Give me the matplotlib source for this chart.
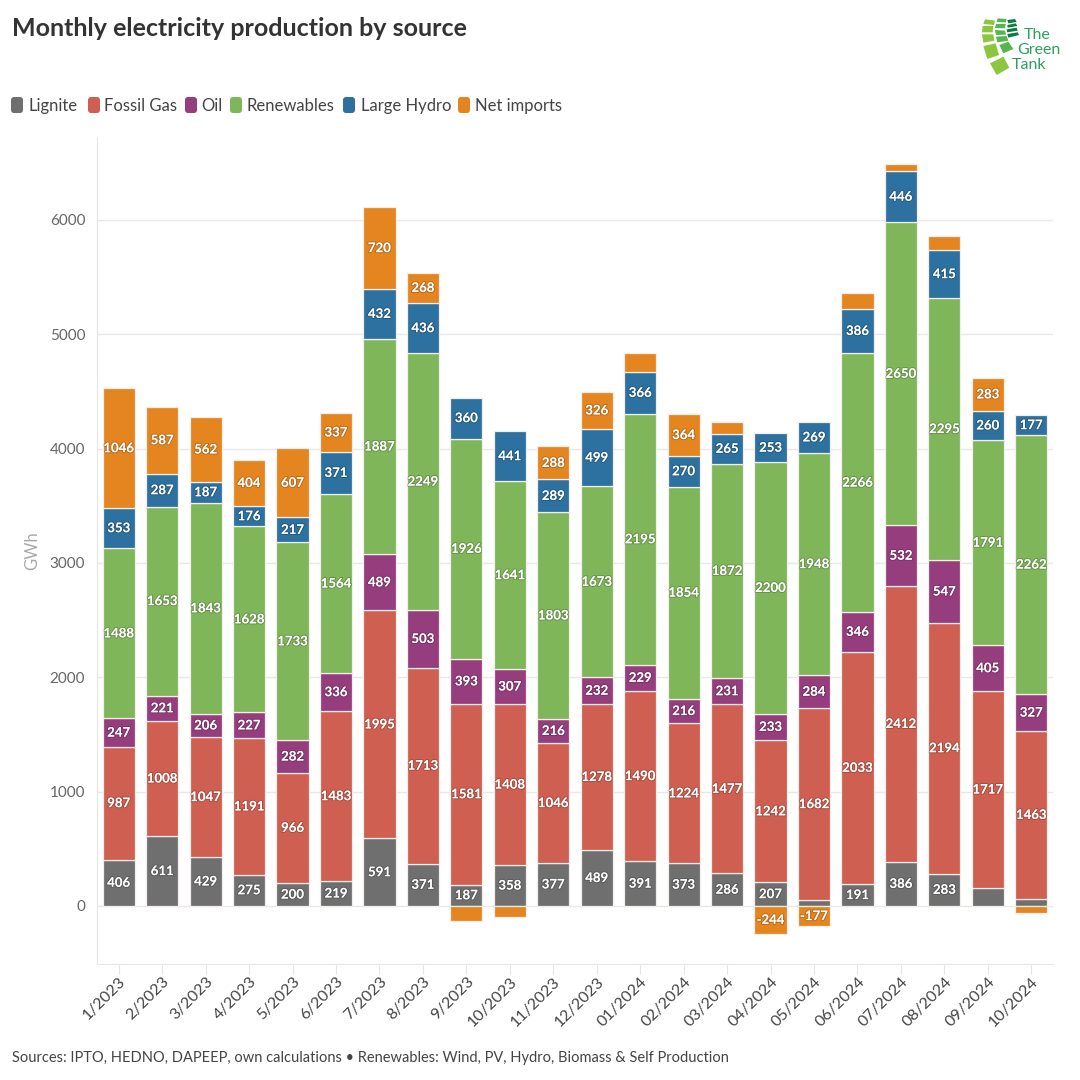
import numpy as np
import matplotlib
matplotlib.use('Agg')
import matplotlib.pyplot as plt
import matplotlib.patheffects as pe
from matplotlib.patches import FancyBboxPatch, Polygon

plt.rcParams['font.family'] = ['Lato', 'DejaVu Sans']

months = ['1/2023', '2/2023', '3/2023', '4/2023', '5/2023', '6/2023', '7/2023', '8/2023',
          '9/2023', '10/2023', '11/2023', '12/2023', '01/2024', '02/2024', '03/2024',
          '04/2024', '05/2024', '06/2024', '07/2024', '08/2024', '09/2024', '10/2024']
lignite = [406, 611, 429, 275, 200, 219, 591, 371, 187, 358, 377, 489, 391, 373, 286, 207, 50, 191, 386, 283, 160, 65]
gas = [987, 1008, 1047, 1191, 966, 1483, 1995, 1713, 1581, 1408, 1046, 1278, 1490, 1224, 1477, 1242, 1682, 2033, 2412, 2194, 1717, 1463]
oil = [247, 221, 206, 227, 282, 336, 489, 503, 393, 307, 216, 232, 229, 216, 231, 233, 284, 346, 532, 547, 405, 327]
renewables = [1488, 1653, 1843, 1628, 1733, 1564, 1887, 2249, 1926, 1641, 1803, 1673, 2195, 1854, 1872, 2200, 1948, 2266, 2650, 2295, 1791, 2262]
hydro = [353, 287, 187, 176, 217, 371, 432, 436, 360, 441, 289, 499, 366, 270, 265, 253, 269, 386, 446, 415, 260, 177]
imports = [1046, 587, 562, 404, 607, 337, 720, 268, -130, -100, 288, 326, 166, 364, 102, -244, -177, 140, 64, 126, 283, -60]

names = ['Lignite', 'Fossil Gas', 'Oil', 'Renewables', 'Large Hydro', 'Net imports']
colors = ['#6f6f6f', '#cf5f50', '#963d7e', '#7fb65a', '#2c719f', '#e5851f']
series = [lignite, gas, oil, renewables, hydro, imports]

fig = plt.figure(figsize=(10.8, 10.8), dpi=100)
ax = fig.add_axes([97 / 1080, 1 - 963.5 / 1080, (1053 - 97) / 1080, (963.5 - 138) / 1080])

x = np.arange(len(months))
pos_base = np.zeros(len(months))
neg_base = np.zeros(len(months))
for vals, c in zip(series, colors):
    vals = np.array(vals, dtype=float)
    bottoms = np.where(vals >= 0, pos_base, neg_base)
    ax.bar(x, vals, 0.74, bottom=bottoms, color=c, edgecolor='#f3eeea', linewidth=0.9, zorder=3)
    for xi, v, b in zip(x, vals, bottoms):
        # small segments have no label
        if abs(v) >= 170:
            t = ax.text(xi, b + v / 2, str(int(v)), ha='center', va='center', color='white',
                        fontsize=9.5, fontweight='bold', zorder=4)
            t.set_path_effects([pe.withStroke(linewidth=1.5, foreground='#00000030')])
    pos_base += np.where(vals >= 0, vals, 0)
    neg_base += np.where(vals < 0, vals, 0)

ax.set_xlim(-0.5, len(months) - 0.5)
ax.set_ylim(-503, 6717)
ax.set_yticks([0, 1000, 2000, 3000, 4000, 5000, 6000])
ax.set_xticks(x)
ax.set_xticklabels(months, rotation=45, ha='right', rotation_mode='anchor', fontsize=11.5, color='#444444')
ax.tick_params(axis='x', length=7, color='#e6e6e6', pad=1)
ax.tick_params(axis='y', length=0, labelsize=11, labelcolor='#666666', pad=8.5)
ax.grid(axis='y', color='#e8e8e8', linewidth=1, zorder=0)
ax.set_axisbelow(True)
for s in ['top', 'right']:
    ax.spines[s].set_visible(False)
for s in ['left', 'bottom']:
    ax.spines[s].set_color('#e6e6e6')
ax.set_ylabel('GWh', fontsize=12, color='#aaaaaa')
ax.yaxis.set_label_coords((40 - 97) / 956, 0.5)

# overlay in pixel coordinates for title, legend, footer and logo
ov = fig.add_axes([0, 0, 1, 1])
ov.set_xlim(0, 1080)
ov.set_ylim(1080, 0)
ov.axis('off')
ov.patch.set_alpha(0)

ov.text(12, 28, 'Monthly electricity production by source', fontsize=18, fontweight='bold',
        color='#333333', va='center')

swatch_x = [11, 88, 185, 230, 343, 458]
label_x = [29, 104, 201, 247, 361, 475]
for sx, lx, n, c in zip(swatch_x, label_x, names, colors):
    ov.add_patch(FancyBboxPatch((sx + 2, 99), 8, 12, boxstyle='round,pad=2,rounding_size=3', fc=c, ec='none'))
    ov.text(lx, 106, n, fontsize=12, color='#444444', va='center')

ov.text(12, 1058, 'Sources: IPTO, HEDNO, DAPEEP, own calculations \u2022 Renewables: Wind, PV, Hydro, Biomass & Self Production',
        fontsize=10.5, color='#444444', va='center')

# logo, coordinates taken from the crop
outer = [[(105, 58), (135, 62), (132, 75), (100, 72)], [(98, 78), (130, 78), (128, 97), (96, 97)],
         [(96, 103), (130, 103), (133, 122), (100, 128)], [(100, 138), (137, 130), (147, 165), (112, 177)],
         [(120, 190), (160, 170), (178, 203), (140, 225)]]
middle = [[(143, 55), (170, 57), (167, 67), (140, 66)], [(138, 72), (167, 72), (165, 85), (135, 84)],
          [(135, 90), (165, 92), (168, 104), (138, 105)], [(138, 110), (170, 108), (175, 122), (142, 127)],
          [(148, 135), (175, 125), (190, 147), (160, 160)]]
dark = [[(172, 60), (195, 57), (200, 66), (175, 70)], [(172, 75), (197, 70), (202, 78), (173, 83)],
        [(170, 88), (200, 83), (203, 92), (172, 97)], [(172, 102), (203, 97), (207, 105), (175, 113)]]
for quads, c in [(outer, '#8cc63f'), (middle, '#55b54f'), (dark, '#0f7a3e')]:
    for q in quads:
        ov.add_patch(Polygon([(950 + a / 3, b / 3) for a, b in q], fc=c, ec='none'))
for txt, lx, ly in [('The', 1024, 35), ('Green', 1017, 50), ('Tank', 1012, 65)]:
    ov.text(lx, ly, txt, fontsize=11.5, color='#2f9e5f', va='center')

fig.savefig('out.png', dpi=100)
